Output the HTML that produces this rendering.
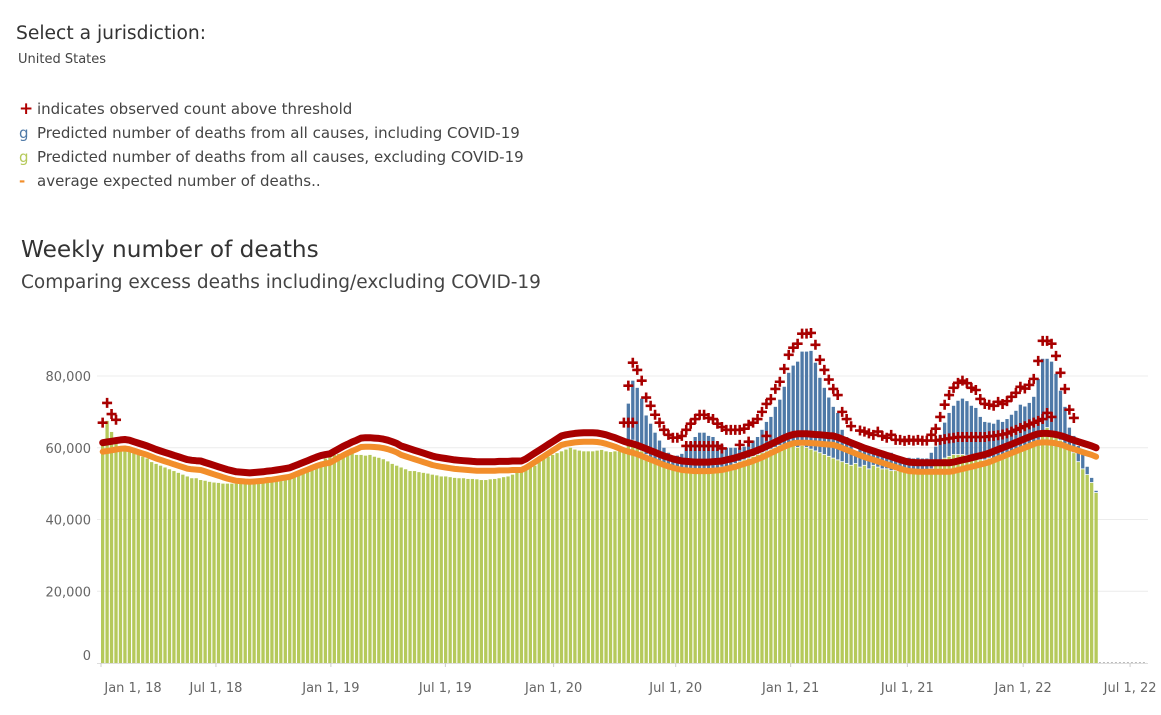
<!DOCTYPE html>
<html><head><meta charset="utf-8"><style>
html,body{margin:0;padding:0;background:#fff;}
svg{display:block;font-family:"DejaVu Sans","Liberation Sans",sans-serif;}
</style></head><body>
<svg id="chart" width="1161" height="715" viewBox="0 0 1161 715">
<text x="16" y="39" font-size="18.7" fill="#333">Select a jurisdiction:</text>
<text x="18" y="63" font-size="13" fill="#444">United States</text>
<g font-size="15" fill="#444">
<g><text x="19" y="114" fill="#b00000" font-weight="bold" font-size="17">+</text><text x="37" y="114">indicates observed count above threshold</text></g>
<g><text x="19" y="138" fill="#4e79a7">g</text><text x="37" y="138">Predicted number of deaths from all causes, including COVID-19</text></g>
<g><text x="19" y="162" fill="#b5c95a">g</text><text x="37" y="162">Predicted number of deaths from all causes, excluding COVID-19</text></g>
<g><text x="19" y="186" fill="#f28e2b" font-weight="bold">-</text><text x="37" y="186">average expected number of deaths..</text></g>
</g>
<text x="21" y="257" font-size="23.2" fill="#333">Weekly number of deaths</text>
<text x="21" y="288" font-size="18.5" fill="#444">Comparing excess deaths including/excluding COVID-19</text>
<g id="grid"></g><g id="bars"></g><g id="lines"></g><g id="marks"></g><g id="axes"></g>
</svg>
<script>
const excludingCovid = [62,67.5,64.4,62.8,60,59.5,59,58.5,58,57.5,57,56,55.5,55,54.5,54,53.5,53,52.5,52,51.5,51.5,51,50.8,50.5,50.3,50.2,50,50,50,50,50,50,50,50.2,50.4,50.6,51,51.3,51.6,52,52.3,52.7,53,53.5,54,54.5,55,55.5,56,57,57.5,
58,58.3,58.2,58.4,58.5,58,58,57.8,58,57.5,57.2,56.8,56.2,55.5,55,54.5,54,53.5,53.5,53.2,53,52.8,52.5,52.3,52,52,51.8,51.6,51.5,51.5,51.3,51.3,51.2,51,51,51.2,51.3,51.5,51.8,52,52.5,53,53.5,54,54.5,55,56,57,57.5,58,58.5,59,
59.5,60,59.5,59.2,59,59,59,59.2,59.4,59,58.8,59,
59,60,61,62,61,59,58,57,56,55.5,55,54.5,54,54,53.5,53.5,53.5,53.5,53.5,53.5,54,54,54.2,54.5,54.5,55,55.5,56,56.5,57,57.5,58,58.5,59,59.5,60,60.5,60.5,61,60.5,
60,60.5,60,59.5,59,58.5,58,57.5,57,56.5,56,55.5,55,55.5,54.5,55,54,55,54.5,54,54,53.5,53.5,53.5,53.2,53.2,53,53,53.2,53.5,54,55,56.5,57,57.5,58,58,58,57.8,57.5,57,56.5,56.5,57,57,57.5,58,58.5,59,59.5,60,60.5,61,61.5,62,64,65.5,64,63,62,61,60,58.5,56,54,52.4,50.2,47.4];
const inclStartWeek = 118;
const includingCovid = [72.3,78.7,76.7,73.7,69,66.7,64.2,62,60,58.6,57.8,57.8,58.3,60,61.7,63,64.2,64.2,63.3,63,61.7,60.8,60,60,60,60,60.3,61.4,62,63,65,67.2,68.6,71.4,73.4,77,80.9,82.9,
84,86.8,86.8,87,83.7,79.5,76.7,74,71.4,69.7,65,63,61,59,59.8,59.5,59,58.6,59.5,58.3,57.8,58.6,57.2,57.2,56.9,57.2,57,57.2,57,57,58.6,60.3,63.6,67,69.7,71.7,73.1,73.7,73,71.7,71.1,68.6,67.2,67,66.7,67.8,67.2,68,69.2,70.3,72,71.5,72.5,74.2,79.2,84.8,84.8,84,80.6,75.9,71.4,65.6,63.3,60.5,58.6,54.7,51.6,48];
const expected = [58.9,59.1,59.3,59.5,59.7,59.8,59.6,59.2,58.8,58.4,58,57.5,57,56.6,56.2,55.8,55.4,55,54.6,54.2,54,53.9,53.8,53.4,53,52.6,52.2,51.8,51.4,51.1,50.8,50.7,50.6,50.5,50.6,50.7,50.8,51,51.1,51.3,51.5,51.7,51.9,52.4,52.9,53.4,53.9,54.4,54.9,55.3,55.6,55.8,
56.5,57.2,57.9,58.5,59.1,59.6,60.2,60.3,60.3,60.2,60.1,59.9,59.6,59.2,58.7,58,57.6,57.2,56.8,56.4,56,55.6,55.2,54.9,54.7,54.5,54.3,54.1,54,53.9,53.8,53.7,53.6,53.6,53.6,53.6,53.6,53.7,53.7,53.7,53.8,53.8,53.8,54.4,55.2,56,56.8,57.6,58.4,59.2,60,60.8,
61.1,61.3,61.5,61.6,61.7,61.7,61.7,61.6,61.4,61.1,60.7,60.3,59.8,59.3,58.9,58.6,58.2,57.7,57.2,56.7,56.2,55.7,55.2,54.8,54.4,54.1,53.8,53.7,53.6,53.5,53.5,53.5,53.5,53.6,53.7,53.8,54.1,54.4,54.7,55.1,55.5,55.9,56.3,56.8,57.3,57.9,58.5,59.1,59.7,60.3,60.8,61.2,
61.4,61.4,61.4,61.3,61.2,61.1,61,60.9,60.8,60.4,59.9,59.4,58.9,58.4,57.9,57.4,57,56.6,56.2,55.8,55.4,55,54.6,54.2,53.8,53.5,53.4,53.3,53.3,53.3,53.3,53.3,53.3,53.3,53.3,53.5,53.8,54.1,54.4,54.7,55,55.3,55.6,56,56.5,57,57.5,58,58.5,59,59.5,60,60.5,61,61.4,61.5,61.5,61.4,61.2,60.9,60.5,60,59.6,59.2,58.8,58.4,58,57.5];
const threshold = [61.4,61.6,61.8,62,62.2,62.3,62.1,61.7,61.3,60.9,60.5,60,59.5,59.1,58.7,58.3,57.9,57.5,57.1,56.7,56.5,56.4,56.3,55.9,55.5,55.1,54.7,54.3,53.9,53.6,53.3,53.2,53.1,53,53.1,53.2,53.3,53.5,53.6,53.8,54,54.2,54.4,54.9,55.4,55.9,56.4,56.9,57.4,57.8,58.1,58.3,
59,59.7,60.4,61,61.6,62.1,62.7,62.8,62.8,62.7,62.6,62.4,62.1,61.7,61.2,60.5,60.1,59.7,59.3,58.9,58.5,58.1,57.7,57.4,57.2,57,56.8,56.6,56.5,56.4,56.3,56.2,56.1,56.1,56.1,56.1,56.1,56.2,56.2,56.2,56.3,56.3,56.3,56.9,57.7,58.5,59.3,60.1,60.9,61.7,62.5,63.3,
63.6,63.8,64,64.1,64.2,64.2,64.2,64.1,63.9,63.6,63.2,62.8,62.3,61.8,61.4,61.1,60.7,60.2,59.7,59.2,58.7,58.2,57.7,57.3,56.9,56.6,56.3,56.2,56.1,56,56,56,56,56.1,56.2,56.3,56.6,56.9,57.2,57.6,58,58.4,58.8,59.3,59.8,60.4,61,61.6,62.2,62.8,63.3,63.7,
63.9,63.9,63.9,63.8,63.7,63.6,63.5,63.4,63.3,62.9,62.4,61.9,61.4,60.9,60.4,59.9,59.5,59.1,58.7,58.3,57.9,57.5,57.1,56.7,56.3,56,55.9,55.8,55.8,55.8,55.8,55.8,55.8,55.8,55.8,56,56.3,56.6,56.9,57.2,57.5,57.8,58.1,58.5,59,59.5,60,60.5,61,61.5,62,62.5,63,63.5,63.9,64,64,63.9,63.7,63.4,63,62.5,62.1,61.7,61.3,60.9,60.5,60];
const lowMarkWeeks = [117,118,119,131,132,133,134,135,136,137,138,139,143,145,149,187,188,189,190,191,192,193,194,195,196,197,198,199,200,201,202,203,204,205,206,207,208,209,210,211,212,213];
const lowMarkValues = [67,67,67,60.5,60.5,60.5,60.5,60.5,60.5,60.5,60.5,59.8,60.8,61.7,63.3,62,62.2,62.4,62.6,62.8,63,63,63,63,63,63,63,63.2,63.3,63.5,63.7,64,64.5,65,65.5,66,66.5,67,67.5,68,69.7,68.6];
const yTicks = [0,20000,40000,60000,80000];
const yTickLabels = ["0","20,000","40,000","60,000","80,000"];
const xTickWeeks = [0,25.8,51.6,77.3,101.6,129,154.8,181,207,231];
const xTickLabels = ["Jan 1, 18","Jul 1, 18","Jan 1, 19","Jul 1, 19","Jan 1, 20","Jul 1, 20","Jan 1, 21","Jul 1, 21","Jan 1, 22","Jul 1, 22"];

const NS="http://www.w3.org/2000/svg";
const X0=101, PITCH=4.455, BW=3.3, Y0=663, PX20K=71.75;
const xw = i => X0 + i*PITCH;
const yv = k => Y0 - (k*1000)/20000*PX20K;
function mk(tag, attrs, parent){const e=document.createElementNS(NS,tag);for(const k in attrs)e.setAttribute(k,attrs[k]);parent.appendChild(e);return e;}
const grid=document.getElementById('grid'),bars=document.getElementById('bars'),lines=document.getElementById('lines'),marks=document.getElementById('marks'),axes=document.getElementById('axes');

yTicks.forEach((t,j)=>{
  const y=Y0-t/20000*PX20K;
  if(t>0){const g=mk('line',{x1:97,x2:1148,y1:y,y2:y,stroke:'#ececec','stroke-width':1},grid);
  
  }
  const lb=mk('text',{x:91,y:(t===0?y-3:y+5),'text-anchor':'end','font-size':13,fill:'#666'},axes);
  lb.textContent=yTickLabels[j];
  
  
});
const base=mk('line',{x1:97,x2:1148,y1:Y0+0.5,y2:Y0+0.5,stroke:'#ddd','stroke-width':1},axes);


const dotted=mk('line',{x1:xw(excludingCovid.length),x2:1147,y1:Y0-0.5,y2:Y0-0.5,stroke:'#bbb','stroke-width':1,'stroke-dasharray':'2,2'},axes);


xTickWeeks.forEach((w,j)=>{
  const x=xw(w);
  const tk=mk('line',{x1:x,x2:x,y1:Y0,y2:Y0+4,stroke:'#ccc'},axes);
  
  
  const lb=mk('text',{x:(j===0?x+32:x),y:692,'text-anchor':'middle','font-size':13,fill:'#666'},axes);
  lb.textContent=xTickLabels[j];
  
  
});
const totalAt = i => (i>=inclStartWeek && includingCovid[i-inclStartWeek]!=null) ? includingCovid[i-inclStartWeek] : excludingCovid[i];
excludingCovid.forEach((g,i)=>{
  const x=xw(i);
  const gr=mk('rect',{x:x,y:yv(g),width:BW,height:Y0-yv(g),fill:'#b5c95a'},bars);
  
  
  const t=totalAt(i);
  if(t>g){
    const br=mk('rect',{x:x,y:yv(t),width:BW,height:yv(g)-yv(t)-0.8,fill:'#4e79a7'},bars);
    
    
  }
});
function path(arr){return arr.map((v,i)=>(i?'L':'M')+(xw(i)+BW/2).toFixed(1)+','+yv(v).toFixed(1)).join(' ');}
const ol=mk('path',{d:path(expected),fill:'none',stroke:'#f28e2b','stroke-width':6,'stroke-linecap':'round','stroke-linejoin':'round'},lines);


const rl=mk('path',{d:path(threshold),fill:'none',stroke:'#a80000','stroke-width':7,'stroke-linecap':'round','stroke-linejoin':'round'},lines);


function plus(x,y){
  const p=mk('path',{d:`M${x-5},${y}H${x+5}M${x},${y-5}V${y+5}`,stroke:'#a80000','stroke-width':2.6,fill:'none'},marks);
  
  
}
const OFFSET=5;
excludingCovid.forEach((g,i)=>{
  const t=totalAt(i);
  const above = i>=inclStartWeek ? t>threshold[i]-1 : t>threshold[i];
  if(above) plus(xw(i)+BW/2, yv(t+OFFSET));
});
lowMarkWeeks.forEach((w,j)=>plus(xw(w)+BW/2, yv(lowMarkValues[j])));
</script>
</body></html>
